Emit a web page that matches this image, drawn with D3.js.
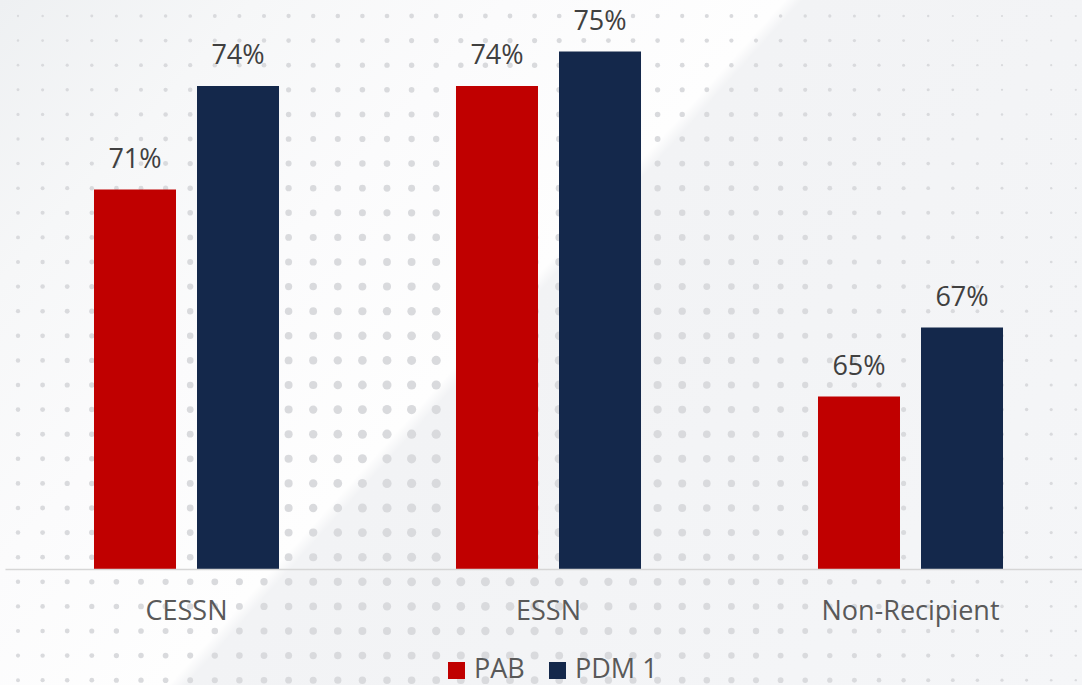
<!DOCTYPE html>
<html>
<head>
<meta charset="utf-8">
<script src="https://cdn.jsdelivr.net/npm/d3@7"></script>
<style>
  html, body { margin: 0; padding: 0; background: #f4f5f7; }
  svg { display: block; }
</style>
</head>
<body>
<svg id="chart" width="1082" height="685"></svg>
<script>
// Survey result by recipient group, two rounds
const categories = ["CESSN", "ESSN", "Non-Recipient"];
const seriesNames = ["PAB", "PDM 1"];
const pabValues = [71, 74, 65];
const pdmValues = [74, 75, 67];
const seriesColors = ["#c00000", "#14284b"];

const W = 1082, H = 685;
const svg = d3.select("#chart");
const defs = svg.append("defs");

// Soft diagonal light band across the backdrop
const grad = defs.append("linearGradient")
  .attr("id", "bgGrad")
  .attr("gradientUnits", "userSpaceOnUse")
  .attr("x1", 0).attr("y1", 0).attr("x2", 939).attr("y2", 845);
[[0, "#eef0f2"], [0.15, "#f6f7f8"], [0.30, "#fbfbfc"], [0.462, "#fefefe"],
 [0.472, "#f2f3f5"], [1, "#f5f6f8"]].forEach(([o, c]) =>
  grad.append("stop").attr("offset", o).attr("stop-color", c));

svg.append("rect").attr("width", W).attr("height", H).attr("fill", "url(#bgGrad)");

// Halftone dot backdrop: dots grow toward the lower middle
const step = 24.6;
const dots = [];
d3.range(0, 45).forEach(i => d3.range(0, 28).forEach(j => {
  const x = 18 + i * step, y = 16 + j * step;
  if (x > W + 5 || y > H + 5) return;
  const d = Math.hypot((x - 480) / 600, (y - 460) / 600);
  const r = Math.max(1.1, Math.min(4.6, 5.3 - 3.9 * d));
  dots.push({x, y, r});
}));
svg.append("g").selectAll("circle").data(dots).join("circle")
  .attr("cx", d => d.x).attr("cy", d => d.y).attr("r", d => d.r)
  .attr("fill", "#d9dadd");

// Scales
const x0 = d3.scaleBand().domain(categories).range([5.5, 1091.5]).padding(0);
const x1 = d3.scaleBand().domain(seriesNames).range([0, x0.bandwidth()])
  .paddingInner(0.204).paddingOuter(0.859);
const y = d3.scaleLinear().domain([60, 76]).range([569, 17]);

const rows = categories.map((c, i) => ({
  category: c,
  values: [
    {series: seriesNames[0], value: pabValues[i]},
    {series: seriesNames[1], value: pdmValues[i]}
  ]
}));
const color = d3.scaleOrdinal().domain(seriesNames).range(seriesColors);

const groups = svg.append("g").selectAll("g").data(rows).join("g")
  .attr("transform", d => `translate(${x0(d.category)},0)`);

groups.selectAll("rect").data(d => d.values).join("rect")
  .attr("x", d => x1(d.series))
  .attr("y", d => y(d.value))
  .attr("width", x1.bandwidth())
  .attr("height", d => y(60) - y(d.value))
  .attr("fill", d => color(d.series));

groups.selectAll("text").data(d => d.values).join("text")
  .attr("x", d => x1(d.series) + x1.bandwidth() / 2)
  .attr("y", d => y(d.value) - 22)
  .attr("text-anchor", "middle")
  .attr("font-family", "'Open Sans', sans-serif")
  .attr("font-size", 27)
  .attr("fill", "#404040")
  .text(d => d.value + "%");

// Category axis
const xAxis = svg.append("g").attr("transform", `translate(0,${y(60)})`)
  .call(d3.axisBottom(x0).tickSize(0).tickPadding(32));
xAxis.select(".domain").attr("stroke", "#d6d6d6").attr("stroke-width", 1.5)
  .attr("d", `M5.5,0.5H${W}`);
xAxis.selectAll("text")
  .attr("font-family", "'Open Sans', sans-serif")
  .attr("font-size", 27)
  .attr("fill", "#595959");

// Legend
const legend = svg.append("g").attr("transform", "translate(448,662)");
const legendOffsets = [0, 101];
seriesNames.forEach((s, i) => {
  const g = legend.append("g").attr("transform", `translate(${legendOffsets[i]},0)`);
  g.append("rect").attr("width", 17).attr("height", 17).attr("fill", color(s));
  g.append("text").attr("x", 26).attr("y", 16)
    .attr("font-family", "'Open Sans', sans-serif")
    .attr("font-size", 27)
    .attr("fill", "#595959")
    .text(s);
});
</script>
</body>
</html>
